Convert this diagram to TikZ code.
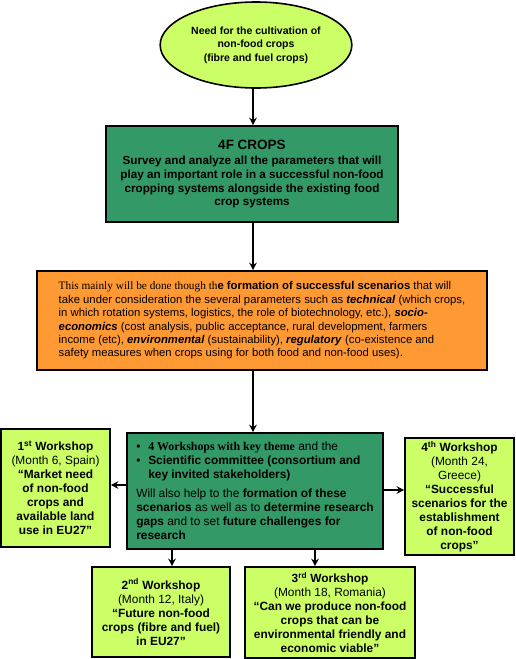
\documentclass[tikz,border=0pt]{standalone}
\usepackage{fontspec}
\setmainfont{Liberation Sans}
\newfontfamily\tnr{Liberation Serif}
\usetikzlibrary{shapes.geometric,arrows.meta}
\definecolor{lime}{HTML}{CCFF66}
\definecolor{dgreen}{HTML}{339966}
\definecolor{orng}{HTML}{FF9933}
\begin{document}
\begin{tikzpicture}[x=1pt,y=-1pt,
  box/.style={draw=black, line width=1.6pt, inner sep=3pt, align=center,
    font=\fontsize{11.9}{14}\selectfont},
  arr/.style={line width=1.8pt, -{Stealth[length=7.5pt,width=7.5pt]}}]
\useasboundingbox (0,0) rectangle (515,659);
\node[box, ellipse, fill=lime, minimum width=166pt, minimum height=86pt,
  font=\fontsize{10.5}{13.5}\selectfont] (need) at (256,45)
  {\textbf{Need for the cultivation of}\\\textbf{non-food crops}\\\textbf{(fibre and fuel crops)}};
\node[box, fill=dgreen, minimum width=292pt, minimum height=96pt,
  font=\fontsize{11.7}{13.7}\selectfont] (crops) at (252,174)
  {{\fontsize{13.5}{16}\selectfont\textbf{4F CROPS}}\\[2pt]
   \textbf{Survey and analyze all the parameters that will}\\
   \textbf{play an important role in a successful non-food}\\
   \textbf{cropping systems alongside the existing food}\\
   \textbf{crop systems}};
\node[box, fill=orng, minimum width=450pt, minimum height=99pt, align=left,
  inner xsep=9pt, font=\fontsize{11.3}{13.4}\selectfont] (scen) at (262,320.5)
  {{\tnr This mainly will be done though th}\textbf{e formation of successful scenarios} that will\\
   take under consideration the several parameters such as \textbf{\textit{technical}} (which crops,\\
   in which rotation systems, logistics, the role of biotechnology, etc.), \textbf{\textit{socio-}}\\
   \textbf{\textit{economics}} (cost analysis, public acceptance, rural development, farmers\\
   income (etc), \textbf{\textit{environmental}} (sustainability), \textbf{\textit{regulatory}} (co-existence and\\
   safety measures when crops using for both food and non-food uses).};
\node[box, fill=dgreen, minimum width=256pt, minimum height=116pt, align=left,
  font=\fontsize{11.9}{14}\selectfont] (mid) at (255,491)
  {\makebox[12pt][l]{\textbullet}{\tnr\bfseries 4 Workshops with key theme} and the\\
   \makebox[12pt][l]{\textbullet}\textbf{Scientific committee (consortium and}\\
   \hspace*{12pt}\textbf{key invited stakeholders)}\\[5pt]
   Will also help to the \textbf{formation of these}\\
   \textbf{scenarios} as well as to \textbf{determine research}\\
   \textbf{gaps} and to set \textbf{future challenges for}\\
   \textbf{research}};
\node[box, fill=lime, minimum width=109pt, minimum height=118pt] (w1) at (55.5,488)
  {\textbf{1\textsuperscript{st} Workshop}\\(Month 6, Spain)\\
   \textbf{“Market need}\\\textbf{of non-food}\\\textbf{crops and}\\\textbf{available land}\\\textbf{use in EU27”}};
\node[box, fill=lime, minimum width=109pt, minimum height=117pt] (w4) at (459.5,496.5)
  {\textbf{4\textsuperscript{th} Workshop}\\(Month 24,\\Greece)\\
   \textbf{“Successful}\\\textbf{scenarios for the}\\\textbf{establishment}\\\textbf{of non-food}\\\textbf{crops”}};
\node[box, fill=lime, minimum width=138pt, minimum height=90pt] (w2) at (161,612)
  {\textbf{2\textsuperscript{nd} Workshop}\\(Month 12, Italy)\\
   \textbf{“Future non-food}\\\textbf{crops (fibre and fuel)}\\\textbf{in EU27”}};
\node[box, fill=lime, minimum width=170pt, minimum height=91pt] (w3) at (330,612.5)
  {\textbf{3\textsuperscript{rd} Workshop}\\(Month 18, Romania)\\
   \textbf{“Can we produce non-food}\\\textbf{crops that can be}\\\textbf{environmental friendly and}\\\textbf{economic viable”}};
\coordinate (xa) at (253,0);
\coordinate (ya) at (0,485);
\coordinate (yb) at (0,490);
\coordinate (x2) at (172,0);
\coordinate (x3) at (315,0);
\draw[arr] (need.south -| xa) -- (crops.north -| xa);
\draw[arr] (crops.south -| xa) -- (scen.north -| xa);
\draw[arr] (scen.south -| xa) -- (mid.north -| xa);
\draw[arr] (mid.west |- ya) -- (w1.east |- ya);
\draw[arr] (mid.east |- yb) -- (w4.west |- yb);
\draw[arr] (mid.south -| x2) -- (w2.north -| x2);
\draw[arr] (mid.south -| x3) -- (w3.north -| x3);
\end{tikzpicture}
\end{document}
